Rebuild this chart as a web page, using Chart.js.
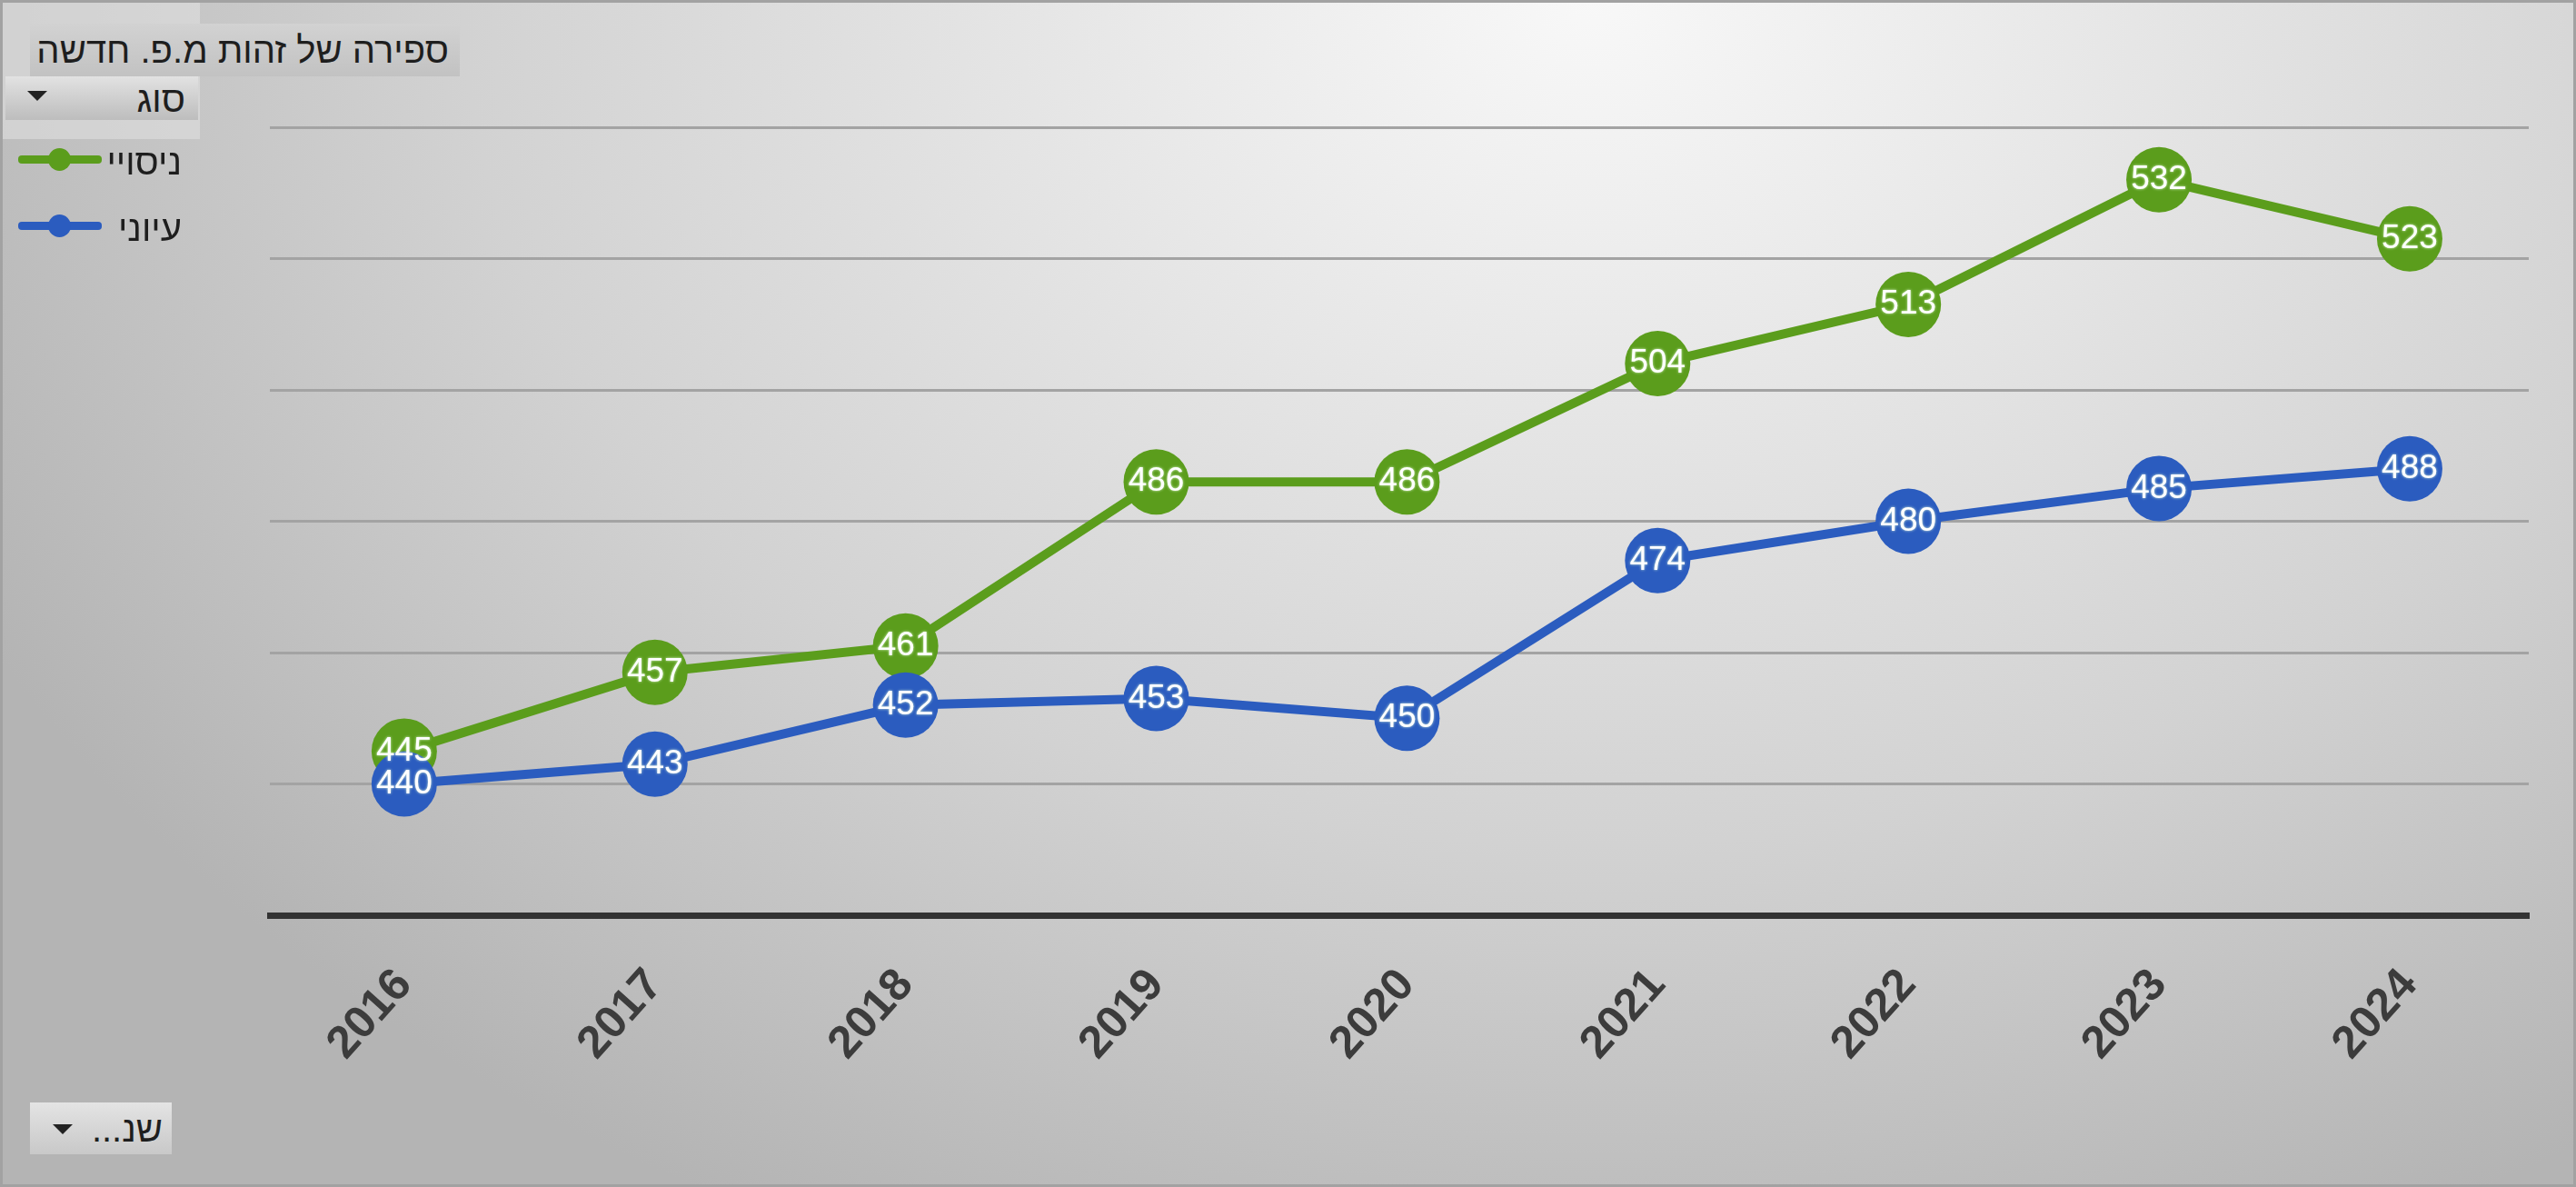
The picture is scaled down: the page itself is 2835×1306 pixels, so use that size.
<!DOCTYPE html>
<html>
<head>
<meta charset="utf-8">
<script src="https://cdn.jsdelivr.net/npm/chart.js@4.4.1/dist/chart.umd.min.js"></script>
<style>
    html, body { margin: 0; padding: 0; }
    body { width: 2835px; height: 1306px; overflow: hidden; font-family: 'Liberation Sans', Arial, sans-serif; }
    #wrap {
        position: relative; width: 2835px; height: 1306px;
        background: radial-gradient(ellipse 2000px 1500px at 1750px 0px, #f8f8f8 0%, #e6e6e6 30%, #d2d2d2 62%, #b4b4b4 100%);
    }
    #frame { position: absolute; left: 0; top: 0; right: 0; bottom: 0; border: 3px solid #a2a2a2; pointer-events: none; }
    canvas { position: absolute; left: 0; top: 0; }
    .btn {
        position: absolute; direction: rtl; box-sizing: border-box; color: #1e1e1e;
        font-size: 40px; line-height: 1; white-space: nowrap;
    }
    #titleBtn { left: 33px; top: 26px; width: 473px; height: 58px; padding: 9px 12px 0 0;
        background: linear-gradient(#d2d2d2, #c2c2c2); }
    #legendBox { left: 0; top: 132px; width: 220px; height: 153px; background: rgba(225,225,225,0.55); }
    #legendBtn { left: 6px; top: 84px; width: 212px; height: 48px; padding: 5px 14px 0 0;
        background: linear-gradient(#e2e2e2, #bdbdbd); }
    #axisBtn { left: 33px; top: 1213px; width: 156px; height: 57px; padding: 9px 10px 0 0;
        background: linear-gradient(#e4e4e4, #c8c8c8); }
    .tri { position: absolute; width: 0; height: 0; border-left: 11px solid transparent;
        border-right: 11px solid transparent; border-top: 11px solid #222; }
    .item { position: absolute; left: 0; width: 220px; height: 44px; }
    .item .ln { position: absolute; left: 20px; top: 18px; width: 92px; height: 9px; border-radius: 4px; }
    .item .dot { position: absolute; left: 53px; top: 10px; width: 25px; height: 25px; border-radius: 50%; }
    .item .tx { position: absolute; right: 20px; top: 3px; direction: rtl; font-size: 40px; color: #1e1e1e; }
</style>
</head>
<body>
<div id="wrap">
    <canvas id="trendChart" width="2835" height="1306"></canvas>
    <div id="legendBox"></div>
    <div id="legendBtn" class="btn"><span id="legendTitle"></span><div class="tri" style="left:24px;top:16px"></div></div>
    <div id="titleBtn" class="btn"></div>
    <div id="axisBtn" class="btn"><span id="axisTitle"></span><div class="tri" style="left:25px;top:24px"></div></div>
    <div id="frame"></div>
</div>
<script>
    const chartTitle = 'ספירה של זהות מ.פ. חדשה';
    const legendTitle = 'סוג';
    const axisTitle = 'שנ...';
    const years = ['2016', '2017', '2018', '2019', '2020', '2021', '2022', '2023', '2024'];
    const seriesNames = ['ניסויי', 'עיוני'];
    const experimentalCounts = [445, 457, 461, 486, 486, 504, 513, 532, 523];
    const theoreticalCounts = [440, 443, 452, 453, 450, 474, 480, 485, 488];
    const seriesColors = ['#5b9d1c', '#2b5cbf'];

    document.getElementById('titleBtn').textContent = chartTitle;
    document.getElementById('legendTitle').textContent = legendTitle;
    document.getElementById('axisTitle').textContent = axisTitle;

    // legend items (Excel style, drawn as html)
    seriesNames.forEach(function(name, i) {
        const item = document.createElement('div');
        item.className = 'item';
        item.style.top = (153 + i * 73) + 'px';
        item.innerHTML = '<div class="ln"></div><div class="dot"></div><div class="tx"></div>';
        item.querySelector('.ln').style.background = seriesColors[i];
        item.querySelector('.dot').style.background = seriesColors[i];
        item.querySelector('.tx').textContent = name;
        document.getElementById('wrap').insertBefore(item, document.getElementById('frame'));
    });

    const toPoints = arr => arr.map((v, i) => ({ x: i, y: v }));

    // value labels in the middle of each marker
    const pointLabels = {
        id: 'pointLabels',
        afterDatasetsDraw(chart) {
            const c = chart.ctx;
            c.save();
            c.font = '37px "Liberation Sans", Arial, sans-serif';
            c.textAlign = 'center';
            c.textBaseline = 'middle';
            c.fillStyle = '#ffffff';
            c.shadowColor = 'rgba(230,255,220,0.9)';
            c.shadowBlur = 3;
            chart.data.datasets.forEach((ds, i) => {
                chart.getDatasetMeta(i).data.forEach((pt, j) => {
                    c.fillText(String(ds.data[j].y), pt.x, pt.y);
                });
            });
            c.restore();
        }
    };

    const ctx = document.getElementById('trendChart');
    new Chart(ctx, {
        type: 'line',
        data: {
            datasets: [
                {
                    label: seriesNames[0],
                    data: toPoints(experimentalCounts),
                    borderColor: seriesColors[0],
                    backgroundColor: seriesColors[0],
                    borderWidth: 10,
                    pointRadius: 36,
                    pointBorderWidth: 0,
                    tension: 0,
                    order: 2
                },
                {
                    label: seriesNames[1],
                    data: toPoints(theoreticalCounts),
                    borderColor: seriesColors[1],
                    backgroundColor: seriesColors[1],
                    borderWidth: 10,
                    pointRadius: 36,
                    pointBorderWidth: 0,
                    tension: 0,
                    order: 1
                }
            ]
        },
        options: {
            responsive: false,
            animation: false,
            events: [],
            layout: { padding: { top: 140, right: 52, left: 0, bottom: 0 } },
            plugins: {
                legend: { display: false },
                tooltip: { enabled: false }
            },
            scales: {
                x: {
                    type: 'linear',
                    min: -0.536,
                    max: 8.475,
                    afterBuildTicks: axis => { axis.ticks = years.map((_, i) => ({ value: i })); },
                    afterFit: axis => { axis.height = 299; },
                    grid: { display: false },
                    border: { display: true, color: '#333333', width: 7 },
                    ticks: {
                        callback: v => years[v],
                        color: '#3c3c3c',
                        font: { size: 50, weight: 'bold', family: 'Liberation Sans' },
                        minRotation: 48,
                        maxRotation: 48,
                        padding: 40,
                        autoSkip: false
                    }
                },
                y: {
                    min: 420,
                    max: 540,
                    afterFit: axis => { axis.width = 297; },
                    grid: { color: '#a3a3a3', lineWidth: 3, drawTicks: false },
                    border: { display: false },
                    ticks: { display: false, stepSize: 20 }
                }
            }
        },
        plugins: [pointLabels]
    });
</script>
</body>
</html>
